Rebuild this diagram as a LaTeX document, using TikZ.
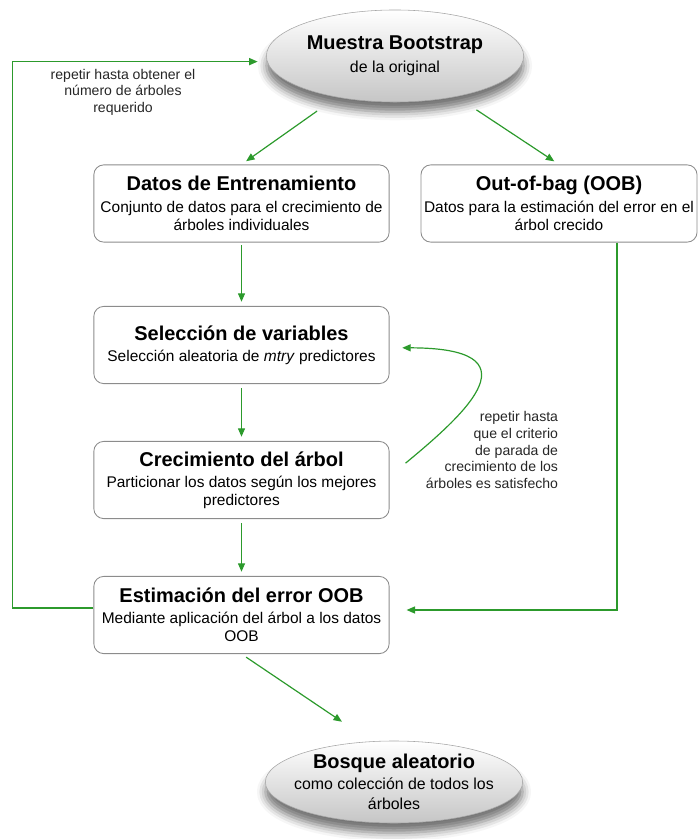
\documentclass[tikz,border=0pt]{standalone}
\usepackage{fontspec}
\setmainfont{Liberation Sans}
\usepackage{tikz}
\usetikzlibrary{positioning,arrows.meta,calc,shapes.geometric,shadows.blur}
\definecolor{verde}{HTML}{2C9A2C}
\definecolor{borde}{HTML}{8C8C8C}
\newcommand{\titulo}[1]{{\fontsize{14.2}{17}\selectfont\bfseries #1}}

\begin{document}
\begin{tikzpicture}[x=0.025cm,y=-0.025cm,
  caja/.style={draw=borde, line width=0.6pt, rounded corners=7pt, fill=white, align=center,
    minimum width=7.38cm, minimum height=1.93cm, inner xsep=1pt, font=\fontsize{11}{13}\selectfont},
  elipse/.style={ellipse, draw=gray!70, line width=0.4pt, top color=white, middle color=gray!18,
    bottom color=gray!45, minimum width=6.43cm, minimum height=2.3cm, inner xsep=-10pt,
    inner ysep=0pt, align=center, font=\fontsize{11.3}{14}\selectfont,
    blur shadow={shadow xshift=0pt, shadow yshift=-7pt, shadow blur radius=6pt, shadow opacity=55}},
  flecha/.style={draw=verde, line width=0.85pt, -{Triangle[length=6pt,width=5pt]}},
  nota/.style={font=\fontsize{10}{11.8}\selectfont, text=black!85}]
  \useasboundingbox (0,0) rectangle (699,839);

  % nodos
  \node[elipse] (boot) at (395,56) {\titulo{Muestra Bootstrap}\\[2pt]de la original};
  \node[caja] (datos) at (241.5,203.5) {\titulo{Datos de Entrenamiento}\\[2pt]Conjunto de datos para el crecimiento de\\árboles individuales};
  \node[caja, minimum width=6.9cm, inner xsep=0pt] (oob) at (559,203.5) {\titulo{Out-of-bag (OOB)}\\[2pt]Datos para la estimación del error en el\\árbol crecido};
  \node[caja] (selec) at (241.5,345) {\titulo{Selección de variables}\\[2pt]Selección aleatoria de \textit{mtry} predictores};
  \node[caja] (crec) at (241.5,480) {\titulo{Crecimiento del árbol}\\[2pt]Particionar los datos según los mejores\\predictores};
  \node[caja] (estim) at (241.5,615) {\titulo{Estimación del error OOB}\\[2pt]Mediante aplicación del árbol a los datos\\OOB};
  \node[elipse, minimum height=2.05cm] (bosque) at (394,782) {\titulo{Bosque aleatorio}\\[1pt]como colección de todos los\\árboles};

  % notas
  \node[nota, align=center] (nrep) at (123,92) {repetir hasta obtener el\\número de árboles\\requerido};
  \node[nota, align=right, anchor=east] (ncrit) at (563,450) {repetir hasta\\que el criterio\\de parada de\\crecimiento de los\\árboles es satisfecho};

  % conexiones
  \draw[flecha, shorten <=17pt, shorten >=4pt] (boot) -- (datos.north);
  \draw[flecha, shorten <=17pt, shorten >=4pt] (boot) -- (oob.north);
  \draw[flecha, shorten <=2pt, shorten >=3pt] (datos) -- (selec);
  \draw[flecha, shorten <=3pt, shorten >=3pt] (selec) -- (crec);
  \draw[flecha, shorten <=3pt, shorten >=3pt] (crec) -- (estim);
  \draw[flecha] ($(oob.south)+(58,0)$) |- ($(estim.east)+(17,-5)$);
  \draw[flecha] ([yshift=5pt]estim.west) -- ++(-81,0) |- ([xshift=-6pt,yshift=-4pt]boot.west);
  \draw[flecha] ([xshift=11.4pt,yshift=12pt]crec.east) .. controls (470,410) and (536,348) .. ([xshift=9pt,yshift=-2pt]selec.east);
  \draw[flecha, shorten <=4pt] (estim.south) -- ([xshift=-37pt,yshift=13.5pt]bosque.north);
\end{tikzpicture}
\end{document}
